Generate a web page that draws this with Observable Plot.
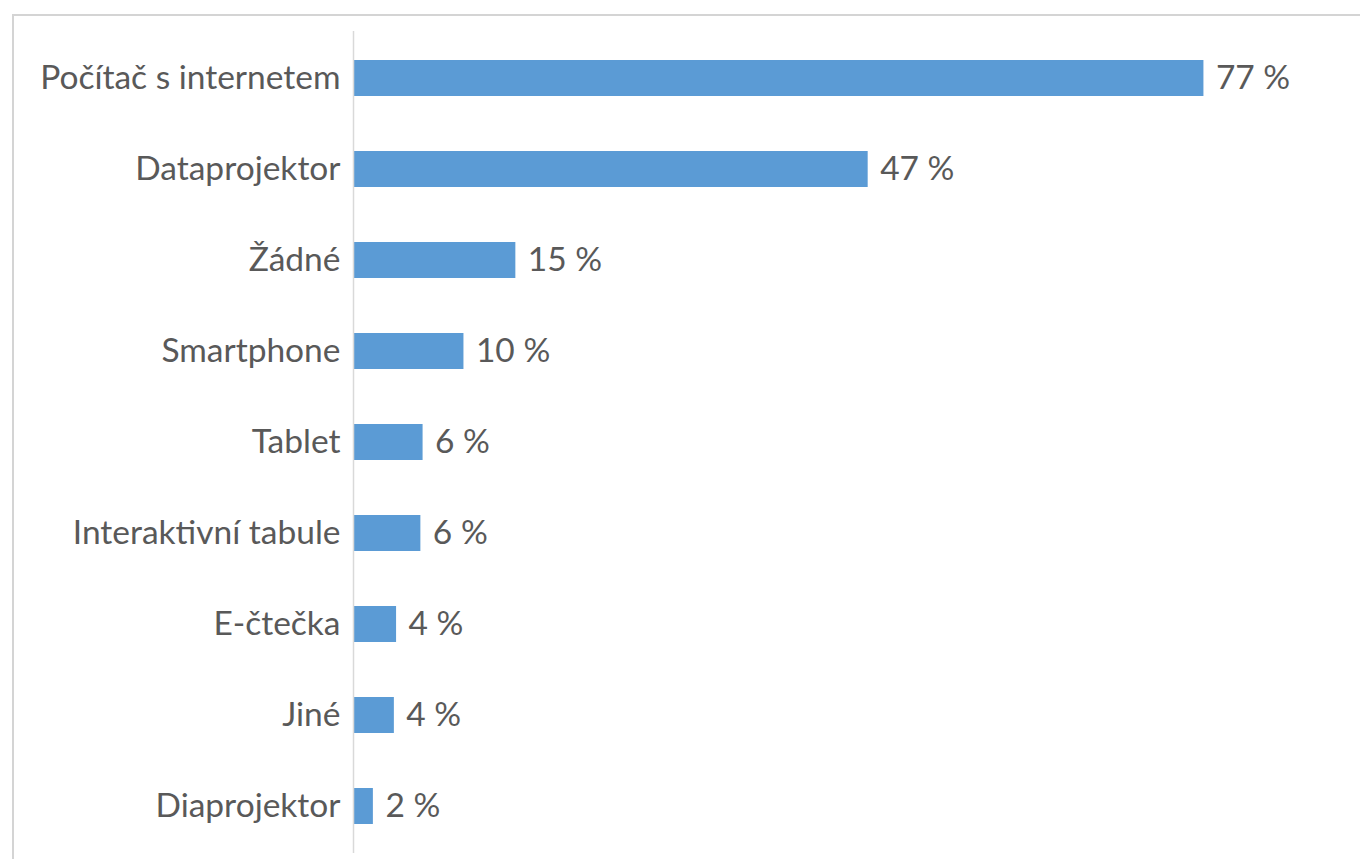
<!DOCTYPE html>
<html>
<head>
<meta charset="utf-8">
<script src="https://cdn.jsdelivr.net/npm/d3@7"></script>
<script src="https://cdn.jsdelivr.net/npm/@observablehq/plot@0.6"></script>
<style>
  html, body { margin: 0; padding: 0; background: #fff; }
  #wrap { position: relative; width: 1360px; height: 859px; overflow: hidden; }
  #frame { position: absolute; left: 12px; top: 14px; width: 1400px; height: 900px;
           border-left: 2px solid #d4d4d4; border-top: 2px solid #d4d4d4; }
  #chart { position: absolute; left: 0; top: 0; }
</style>
</head>
<body>
<div id="wrap"><div id="frame"></div><div id="chart"></div></div>
<script>
const categories = ["Počítač s internetem", "Dataprojektor", "Žádné", "Smartphone", "Tablet", "Interaktivní tabule", "E-čtečka", "Jiné", "Diaprojektor"];
const values = [77.0, 46.6, 14.7, 10.0, 6.3, 6.1, 3.9, 3.7, 1.8];
const valueLabels = ["77 %", "47 %", "15 %", "10 %", "6 %", "6 %", "4 %", "4 %", "2 %"];

const data = categories.map((c, i) => ({category: c, value: values[i], label: valueLabels[i]}));

const FS = 33.5;
const chart = Plot.plot({
  width: 1360,
  height: 859,
  marginLeft: 353,
  marginRight: 13,
  marginTop: 31,
  marginBottom: 6,
  style: {fontFamily: "Lato, 'Noto Sans', sans-serif", fontSize: FS + "px", color: "#595959", background: "transparent"},
  x: {domain: [0, 90], axis: null},
  y: {domain: categories, paddingInner: 0.6, paddingOuter: 0.3, label: null, axis: null},
  marks: [
    Plot.barX(data, {x: "value", y: "category", fill: "#5B9BD5"}),
    Plot.ruleX([0], {stroke: "#d9d9d9", strokeWidth: 1.5}),
    Plot.text(data, {x: "value", y: "category", text: "label", textAnchor: "start", dx: 12, fill: "#595959", fontSize: FS}),
    Plot.axisY({tickSize: 0, tickPadding: 13, fontSize: FS, label: null, fill: "#595959"})
  ]
});
document.getElementById("chart").appendChild(chart);
</script>
</body>
</html>
